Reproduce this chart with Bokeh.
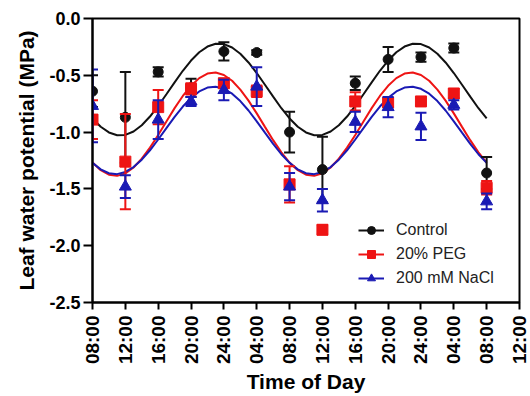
import math
from bokeh.plotting import figure
from bokeh.models import Range1d, FixedTicker, Legend, LegendItem
from bokeh.embed import file_html
from bokeh.resources import INLINE

# ---- data ----
hours = [0, 4, 8, 12, 16, 20, 24, 28, 32, 36, 40, 44, 48]
tick_pos = [0, 4, 8, 12, 16, 20, 24, 28, 32, 36, 40, 44, 48, 52]
tick_labels = ["08:00", "12:00", "16:00", "20:00", "24:00", "04:00", "08:00",
               "12:00", "16:00", "20:00", "24:00", "04:00", "08:00", "12:00"]
y_ticks = [0.0, -0.5, -1.0, -1.5, -2.0, -2.5]
y_tick_labels = ["0.0", "-0.5", "-1.0", "-1.5", "-2.0", "-2.5"]

control = [-0.64, -0.87, -0.47, -0.61, -0.29, -0.30, -1.00, -1.33, -0.57, -0.36, -0.34, -0.26, -1.36]
control_err = [0.14, 0.40, 0.04, 0.08, 0.08, 0.02, 0.18, 0.29, 0.06, 0.11, 0.04, 0.04, 0.14]
peg = [-0.89, -1.26, -0.78, -0.62, -0.57, -0.64, -1.46, -1.86, -0.73, -0.74, -0.73, -0.66, -1.49]
peg_err = [0.17, 0.42, 0.15, 0.05, 0.04, 0.05, 0.16, 0.04, 0.08, 0.04, 0.03, 0.04, 0.06]
nacl = [-0.77, -1.48, -0.89, -0.73, -0.63, -0.60, -1.48, -1.60, -0.91, -0.78, -0.95, -0.76, -1.61]
nacl_err = [0.32, 0.10, 0.17, 0.04, 0.09, 0.17, 0.12, 0.10, 0.09, 0.09, 0.12, 0.04, 0.07]

# fitted curves, every hour (0 .. 48 h)
fit_hours = list(range(0, 49))
control_fit = [-0.880, -0.953, -1.003, -1.028, -1.025, -0.995, -0.940, -0.863, -0.770, -0.667, -0.562, -0.460,
               -0.370, -0.297, -0.247, -0.222, -0.225, -0.255, -0.310, -0.387, -0.480, -0.583, -0.688, -0.790,
               -0.880, -0.953, -1.003, -1.028, -1.025, -0.995, -0.940, -0.863, -0.770, -0.667, -0.562, -0.460,
               -0.370, -0.297, -0.247, -0.222, -0.225, -0.255, -0.310, -0.387, -0.480, -0.583, -0.688, -0.790,
               -0.880]
peg_fit = [-1.268, -1.335, -1.375, -1.385, -1.363, -1.312, -1.234, -1.137, -1.025, -0.906, -0.789, -0.682,
           -0.592, -0.525, -0.485, -0.475, -0.497, -0.548, -0.626, -0.723, -0.835, -0.954, -1.071, -1.178,
           -1.268, -1.335, -1.375, -1.385, -1.363, -1.312, -1.234, -1.137, -1.025, -0.906, -0.789, -0.682,
           -0.592, -0.525, -0.485, -0.475, -0.497, -0.548, -0.626, -0.723, -0.835, -0.954, -1.071, -1.178,
           -1.268]
nacl_fit = [-1.271, -1.328, -1.362, -1.370, -1.351, -1.308, -1.243, -1.160, -1.065, -0.965, -0.866, -0.775,
            -0.699, -0.642, -0.608, -0.600, -0.619, -0.662, -0.727, -0.810, -0.905, -1.005, -1.104, -1.195,
            -1.271, -1.328, -1.362, -1.370, -1.351, -1.308, -1.243, -1.160, -1.065, -0.965, -0.866, -0.775,
            -0.699, -0.642, -0.608, -0.600, -0.619, -0.662, -0.727, -0.810, -0.905, -1.005, -1.104, -1.195,
            -1.271]

BLACK = "#111111"
RED = "#ee1414"
BLUE = "#1a1ab4"
FONT = "Liberation Sans"

p = figure(width=530, height=396, x_range=Range1d(0, 52), y_range=Range1d(-2.5, 0),
           output_backend="svg", toolbar_location=None,
           min_border_left=92, min_border_right=11, min_border_top=18, min_border_bottom=40)
p.xgrid.visible = False
p.ygrid.visible = False
p.outline_line_color = "black"
p.outline_line_width = 2
p.outline_line_alpha = 1

for ax in (p.xaxis[0], p.yaxis[0]):
    ax.axis_line_width = 2
    ax.axis_line_color = "black"
    ax.major_tick_line_width = 2
    ax.major_tick_line_color = "black"
    ax.major_tick_in = 0
    ax.minor_tick_line_color = None
    ax.major_label_text_font = FONT
    ax.major_label_text_font_style = "bold"
    ax.major_label_text_font_size = "18px"
    ax.major_label_text_color = "black"
    ax.axis_label_text_font = FONT
    ax.axis_label_text_font_style = "bold"
    ax.axis_label_text_font_size = "21px"
    ax.axis_label_text_color = "black"

p.yaxis.ticker = FixedTicker(ticks=y_ticks)
p.yaxis.major_label_overrides = {t: l for t, l in zip(y_ticks, y_tick_labels)}
p.yaxis.major_tick_out = 9
p.yaxis.major_label_standoff = 3
p.yaxis.axis_label = "Leaf water potential (MPa)"
p.yaxis.axis_label_standoff = 8

p.xaxis.ticker = FixedTicker(ticks=tick_pos)
p.xaxis.major_label_overrides = {t: l for t, l in zip(tick_pos, tick_labels)}
p.xaxis.major_label_text_font_size = "19px"
p.xaxis.major_tick_out = 7
p.xaxis.major_label_standoff = 6
p.xaxis.major_label_orientation = math.pi / 2
p.xaxis.axis_label = "Time of Day"
p.xaxis.axis_label_standoff = 3

items = []
series = [
    ("Control", control, control_err, control_fit, BLACK, "circle", 10),
    ("20% PEG", peg, peg_err, peg_fit, RED, "square", 11),
    ("200 mM NaCl", nacl, nacl_err, nacl_fit, BLUE, "triangle", 12),
]
lines = []
for name, vals, errs, fit, col, mk, sz in series:
    lr = p.line(fit_hours, fit, line_color=col, line_width=2)
    lines.append(lr)

for name, vals, errs, fit, col, mk, sz in series:
    lo = [v - e for v, e in zip(vals, errs)]
    hi = [v + e for v, e in zip(vals, errs)]
    p.segment(x0=hours, y0=lo, x1=hours, y1=hi, line_color=col, line_width=2)
    p.scatter(hours, lo, marker="dash", size=11, line_color=col, line_width=2)
    p.scatter(hours, hi, marker="dash", size=11, line_color=col, line_width=2)
    sr = p.scatter(hours, vals, marker=mk, size=sz, fill_color=col, line_color=col)
    items.append((name, sr))

legend = Legend(items=[LegendItem(label=n, renderers=[lr, sr]) for (n, sr), lr in zip(items, lines)],
                location=(264, 12), glyph_width=26, glyph_height=20, label_standoff=12,
                spacing=4, padding=2, background_fill_alpha=0, border_line_alpha=0,
                label_text_font=FONT, label_text_font_size="16px", label_text_color="#222222")
p.add_layout(legend)

open("out.html", "w").write(file_html(p, INLINE))
